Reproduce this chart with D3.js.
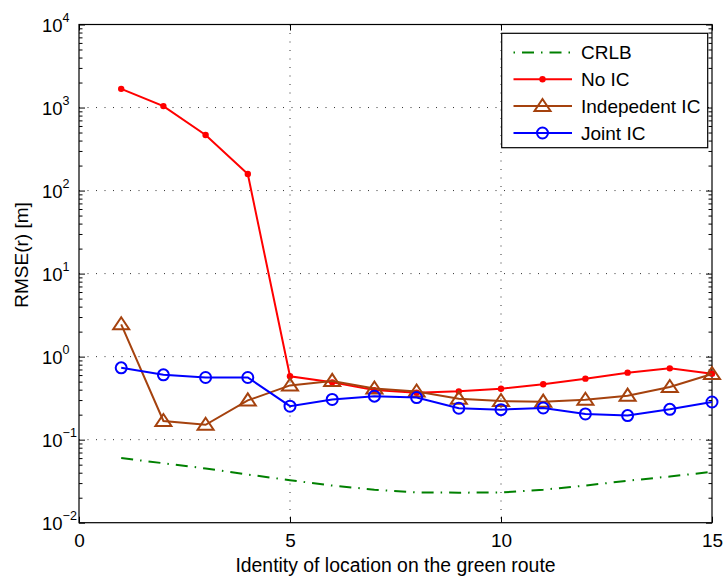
<!DOCTYPE html>
<html>
<head>
<meta charset="utf-8">
<script src="https://cdn.jsdelivr.net/npm/d3@7"></script>
<style>
  html, body { margin: 0; padding: 0; background: #fff; }
  svg { display: block; font-family: "Liberation Sans", Arial, sans-serif; }
</style>
</head>
<body>
<svg id="chart" width="727" height="580"></svg>
<script>
// RMSE of the position estimate along the green route
const locations = [1, 2, 3, 4, 5, 6, 7, 8, 9, 10, 11, 12, 13, 14, 15];
const crlb    = [0.060, 0.052, 0.045, 0.038, 0.0325, 0.028, 0.025, 0.0232, 0.0230, 0.0231, 0.025, 0.028, 0.032, 0.036, 0.041];
const noIC    = [1680, 1040, 467, 158, 0.58, 0.49, 0.395, 0.368, 0.382, 0.411, 0.464, 0.543, 0.641, 0.723, 0.624];
const indepIC = [2.45, 0.168, 0.151, 0.297, 0.45, 0.51, 0.414, 0.38, 0.312, 0.292, 0.287, 0.303, 0.339, 0.431, 0.618];
const jointIC = [0.733, 0.604, 0.561, 0.561, 0.253, 0.305, 0.334, 0.321, 0.239, 0.230, 0.241, 0.204, 0.195, 0.232, 0.284];

const xTicks = [0, 5, 10, 15];
const yExponents = [-2, -1, 0, 1, 2, 3, 4];
const seriesNames = ["CRLB", "No IC", "Indepedent IC", "Joint IC"];
const xLabel = "Identity of location on the green route";
const yLabel = "RMSE(r) [m]";

const svg = d3.select("#chart");
const L = 79, R = 712, T = 24.5, B = 522.7;
const FONT = 19;

const x = d3.scaleLinear().domain([0, 15]).range([L, R]);
const y = d3.scaleLog().domain([1e-2, 1e4]).range([B, T]);

const majorY = yExponents.map(e => Math.pow(10, e));
const minorY = [];
for (let e = -2; e < 4; e++) for (let m = 2; m <= 9; m++) minorY.push(m * Math.pow(10, e));

// dotted grid
const grid = svg.append("g");
grid.selectAll("line.gx").data(xTicks.filter(v => v > 0 && v < 15)).enter().append("line")
  .attr("x1", d => x(d)).attr("x2", d => x(d)).attr("y1", T).attr("y2", B)
  .attr("stroke", "#333").attr("stroke-width", 1).attr("stroke-dasharray", "1,7.5");
grid.selectAll("line.gy").data(majorY.slice(1, -1)).enter().append("line")
  .attr("y1", d => y(d)).attr("y2", d => y(d)).attr("x1", L).attr("x2", R)
  .attr("stroke", "#333").attr("stroke-width", 1).attr("stroke-dasharray", "1,7.5");

// axes (ticks pointing inward)
function styleAxis(g) {
  g.select(".domain").remove();
  g.selectAll(".tick line").attr("stroke", "#000").attr("stroke-width", 1);
}
const gxB = svg.append("g").attr("transform", `translate(0,${B})`)
  .call(d3.axisBottom(x).tickValues(xTicks).tickSize(-6).tickPadding(10.5).tickFormat(d3.format("d")));
styleAxis(gxB);
gxB.selectAll("text").attr("font-size", FONT).attr("fill", "#000").attr("font-family", "Liberation Sans, Arial, sans-serif");

const gxT = svg.append("g").attr("transform", `translate(0,${T})`)
  .call(d3.axisTop(x).tickValues(xTicks).tickSize(-6).tickFormat(""));
styleAxis(gxT);

[[L, d3.axisLeft], [R, d3.axisRight]].forEach(([pos, mk]) => {
  const gMaj = svg.append("g").attr("transform", `translate(${pos},0)`)
    .call(mk(y).tickValues(majorY).tickSize(-6).tickFormat(""));
  styleAxis(gMaj);
  const gMin = svg.append("g").attr("transform", `translate(${pos},0)`)
    .call(mk(y).tickValues(minorY).tickSize(-3.5).tickFormat(""));
  styleAxis(gMin);
});

// y tick labels as 10^n
const yl = svg.append("g").attr("font-size", 18.5).attr("fill", "#000");
yExponents.forEach(e => {
  const t = yl.append("text").attr("x", 42).attr("y", y(Math.pow(10, e)) + 7);
  t.append("tspan").text("10");
  t.append("tspan").attr("font-size", 12.5).attr("dy", -9.5).text(e < 0 ? "\u2212" + (-e) : String(e));
});

// plot frame
svg.append("rect").attr("x", L).attr("y", T).attr("width", R - L).attr("height", B - T)
  .attr("fill", "none").attr("stroke", "#000").attr("stroke-width", 1.2);

// series
const lineGen = d3.line().x((d, i) => x(locations[i])).y(d => y(d));
const colCRLB = "#008000", colNo = "#ff0000", colInd = "#a5420e", colJoint = "#0000ff";

svg.append("path").datum(crlb).attr("d", lineGen).attr("fill", "none")
  .attr("stroke", colCRLB).attr("stroke-width", 2).attr("stroke-dasharray", "12,7,1.5,7");

svg.append("path").datum(noIC).attr("d", lineGen).attr("fill", "none")
  .attr("stroke", colNo).attr("stroke-width", 2);
svg.selectAll("circle.no").data(noIC).enter().append("circle")
  .attr("cx", (d, i) => x(locations[i])).attr("cy", d => y(d)).attr("r", 3.2).attr("fill", colNo);

const tri = "M0,-7L8,5L-8,5Z";
svg.append("path").datum(indepIC).attr("d", lineGen).attr("fill", "none")
  .attr("stroke", colInd).attr("stroke-width", 2);
svg.selectAll("path.ind").data(indepIC).enter().append("path")
  .attr("transform", (d, i) => `translate(${x(locations[i])},${y(d)})`)
  .attr("d", tri).attr("fill", "none").attr("stroke", colInd).attr("stroke-width", 2);

svg.append("path").datum(jointIC).attr("d", lineGen).attr("fill", "none")
  .attr("stroke", colJoint).attr("stroke-width", 2);
svg.selectAll("circle.jt").data(jointIC).enter().append("circle")
  .attr("cx", (d, i) => x(locations[i])).attr("cy", d => y(d)).attr("r", 5.5)
  .attr("fill", "none").attr("stroke", colJoint).attr("stroke-width", 2);

// axis labels
svg.append("text").attr("x", (L + R) / 2).attr("y", 572).attr("text-anchor", "middle")
  .attr("font-size", 19.4).attr("fill", "#000").text(xLabel);
svg.append("text").attr("transform", "translate(28,255) rotate(-90)").attr("text-anchor", "middle")
  .attr("font-size", FONT).attr("fill", "#000").text(yLabel);

// legend
const lg = svg.append("g");
lg.append("rect").attr("x", 501.7).attr("y", 33.3).attr("width", 206).attr("height", 114.4)
  .attr("fill", "#fff").attr("stroke", "#000").attr("stroke-width", 1.2);
const rows = [52.5, 79.3, 106, 133];
const lx1 = 513.5, lx2 = 572, lmx = 542.5, ltx = 581;
// CRLB
lg.append("line").attr("x1", lx1).attr("x2", lx2).attr("y1", rows[0]).attr("y2", rows[0])
  .attr("stroke", colCRLB).attr("stroke-width", 2).attr("stroke-dasharray", "1.5,7,12,7");
// No IC
lg.append("line").attr("x1", lx1).attr("x2", lx2).attr("y1", rows[1]).attr("y2", rows[1])
  .attr("stroke", colNo).attr("stroke-width", 2);
lg.append("circle").attr("cx", lmx).attr("cy", rows[1]).attr("r", 3.2).attr("fill", colNo);
// Independent IC
lg.append("line").attr("x1", lx1).attr("x2", lx2).attr("y1", rows[2]).attr("y2", rows[2])
  .attr("stroke", colInd).attr("stroke-width", 2);
lg.append("path").attr("transform", `translate(${lmx},${rows[2]})`).attr("d", tri)
  .attr("fill", "none").attr("stroke", colInd).attr("stroke-width", 2);
// Joint IC
lg.append("line").attr("x1", lx1).attr("x2", lx2).attr("y1", rows[3]).attr("y2", rows[3])
  .attr("stroke", colJoint).attr("stroke-width", 2);
lg.append("circle").attr("cx", lmx).attr("cy", rows[3]).attr("r", 5.5)
  .attr("fill", "none").attr("stroke", colJoint).attr("stroke-width", 2);
lg.selectAll("text").data(seriesNames).enter().append("text")
  .attr("x", ltx).attr("y", (d, i) => rows[i] + 6.8).attr("font-size", FONT).attr("fill", "#000")
  .text(d => d);
</script>
</body>
</html>
